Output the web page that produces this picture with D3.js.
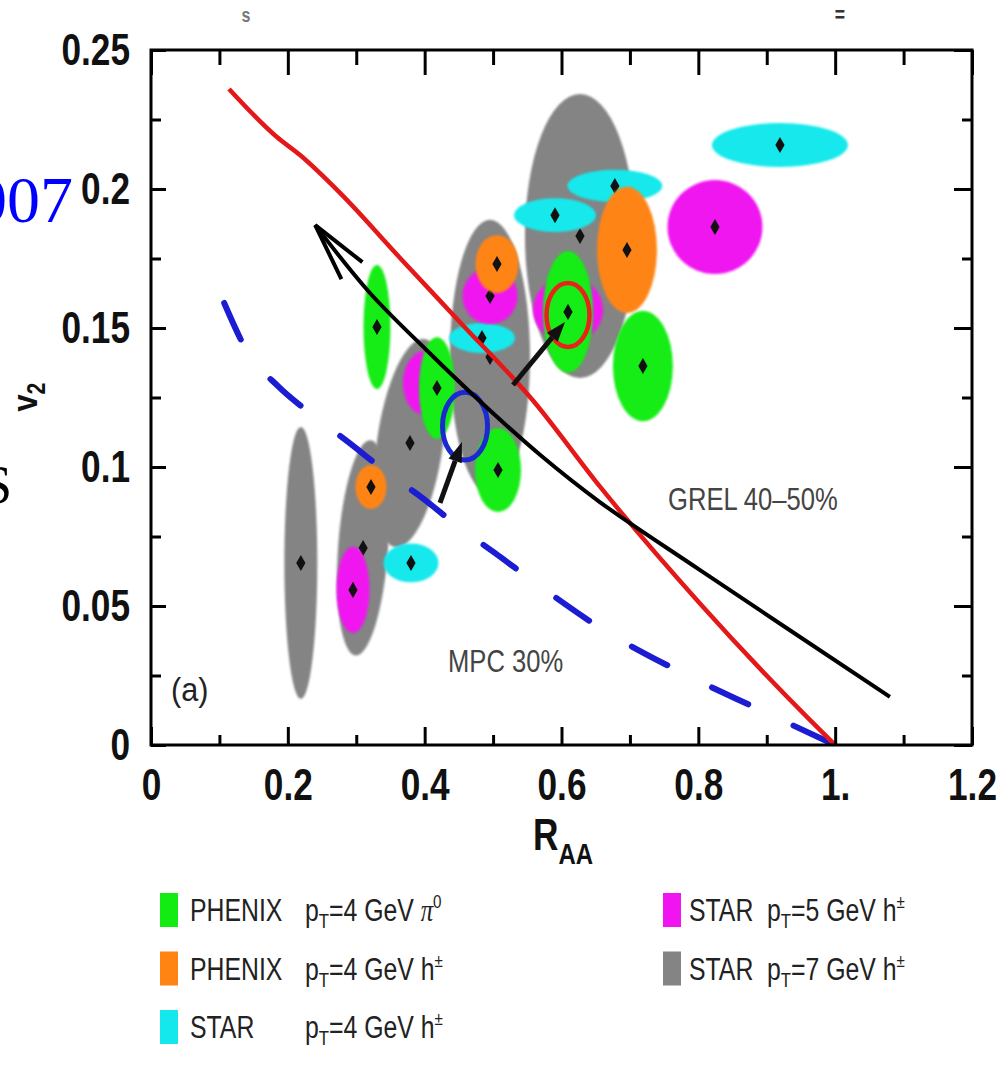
<!DOCTYPE html>
<html>
<head>
<meta charset="utf-8">
<script src="https://cdn.jsdelivr.net/npm/d3@7"></script>
<style>
body { margin: 0; background: #fff; }
svg { display: block; }
</style>
</head>
<body>
<div id="chart"></div>
<script>
var width = 1008, height = 1069;
var frame = {left: 151, right: 972, top: 50, bottom: 745};
var sans = "'Liberation Sans',Arial,sans-serif";
var serif = "'Liberation Serif','Times New Roman',serif";
var squeeze = 0.8; // the figure uses a narrow Helvetica

// axis ticks
var xMajor = [0, 0.2, 0.4, 0.6, 0.8, 1.0, 1.2];
var xLabels = ["0", "0.2", "0.4", "0.6", "0.8", "1.", "1.2"];
var xMinor = [0.1, 0.3, 0.5, 0.7, 0.9, 1.1];
var yMajor = [0, 0.05, 0.1, 0.15, 0.2, 0.25];
var yLabels = ["0", "0.05", "0.1", "0.15", "0.2", "0.25"];
var yMinor = [0.025, 0.075, 0.125, 0.175, 0.225];

// measurements: [R_AA, v2, half-width R_AA, half-width v2, tilt deg]
var star7 = [
  [0.219, 0.0655, 0.0241, 0.0489, 0],
  [0.310, 0.0709, 0.0365, 0.0388, 4],
  [0.3785, 0.1086, 0.0482, 0.0378, 8],
  [0.4955, 0.1396, 0.0585, 0.0493, 0],
  [0.627, 0.1831, 0.0804, 0.0511, 0]
];
var star4 = [
  [0.380, 0.0655, 0.0402, 0.0070, 0],
  [0.4838, 0.1464, 0.0482, 0.0054, 0],
  [0.5905, 0.1906, 0.0599, 0.0061, 0],
  [0.678, 0.2011, 0.0694, 0.0058, 0],
  [0.9193, 0.2158, 0.0994, 0.0079, 0]
];
var star5 = [
  [0.2952, 0.0558, 0.0241, 0.0155, 0],
  [0.4005, 0.1302, 0.0322, 0.0115, 0],
  [0.4955, 0.1615, 0.0402, 0.0101, 0],
  [0.6095, 0.1565, 0.0512, 0.0119, 0],
  [0.8243, 0.1863, 0.0694, 0.0169, 0]
];
var phenixH = [
  [0.3215, 0.0928, 0.0227, 0.0079, 0],
  [0.5057, 0.1730, 0.0314, 0.0104, 0],
  [0.6957, 0.1781, 0.0438, 0.0227, 0]
];
var phenixPi0 = [
  [0.3303, 0.1504, 0.0197, 0.0223, 0],
  [0.418, 0.1284, 0.0263, 0.0183, 0],
  [0.5072, 0.0989, 0.0336, 0.0151, 0],
  [0.6095, 0.1558, 0.0365, 0.0219, 0],
  [0.719, 0.1363, 0.0438, 0.0198, 0]
];

// model curves
var grelCurve = [[0.114, 0.236], [0.184, 0.2187], [0.2178, 0.2122], [0.2762, 0.1986], [0.364, 0.1752],
  [0.452, 0.152], [0.558, 0.124], [0.656, 0.093], [0.802, 0.051], [0.959, 0.010], [1.0, 0.0]];
var mpcCurve = [[0.107, 0.159], [0.142, 0.141], [0.186, 0.129], [0.240, 0.118], [0.288, 0.109],
  [0.345, 0.098], [0.396, 0.089], [0.452, 0.078], [0.503, 0.069], [0.558, 0.059], [0.664, 0.041],
  [0.776, 0.026], [0.887, 0.013], [1.0, 0.0]];
// hand-drawn trend arrow (tip first)
var trendCurve = [[0.240, 0.187], [0.320, 0.1626], [0.403, 0.142], [0.471, 0.1259], [0.569, 0.1043],
  [0.656, 0.0874], [0.802, 0.063], [1.080, 0.0173]];
var shiftArrows = [
  {from: [0.4224, 0.0871], to: [0.4545, 0.1090]},
  {from: [0.5291, 0.1295], to: [0.6051, 0.1522]}
];
// highlighted points [R_AA, v2, dR, dv2]
var redRing = [0.6095, 0.1547, 0.0314, 0.0115];
var blueRing = [0.459, 0.1147, 0.0329, 0.0122];

var legendItems = [
  {key: "phenixPi0", name: "PHENIX", pt: "4", part: "pi"},
  {key: "phenixH", name: "PHENIX", pt: "4", part: "h"},
  {key: "star4", name: "STAR", pt: "4", part: "h"},
  {key: "star5", name: "STAR", pt: "5", part: "h"},
  {key: "star7", name: "STAR", pt: "7", part: "h"}
];

var color = d3.scaleOrdinal()
  .domain(["phenixPi0", "phenixH", "star4", "star5", "star7"])
  .range(["#12ec12", "#ff8412", "#14e8ec", "#f014f0", "#848484"]);

var x = d3.scaleLinear().domain([0, 1.2]).range([frame.left, frame.right]);
var y = d3.scaleLinear().domain([0, 0.25]).range([frame.bottom, frame.top]);

var svg = d3.select("#chart").append("svg")
  .attr("width", width)
  .attr("height", height);

var defs = svg.append("defs");
defs.append("filter").attr("id", "soft")
  .append("feGaussianBlur").attr("stdDeviation", 0.9);

// narrow text: a group squeezed horizontally around its anchor
function narrowText(px, py, size, opts) {
  opts = opts || {};
  return svg.append("g")
    .attr("transform", "translate(" + px + "," + py + ") scale(" + (opts.sx || squeeze) + ",1)")
    .append("text")
    .attr("text-anchor", opts.anchor || "start")
    .style("font-family", sans).style("font-size", size + "px")
    .style("font-weight", opts.bold ? "bold" : "normal")
    .attr("fill", opts.fill || "#222");
}

// slide leftovers around the figure
svg.append("text").attr("x", 73).attr("y", 222).attr("text-anchor", "end")
  .style("font-family", serif).style("font-size", "66px").attr("fill", "#0000ff").text("2007");
svg.append("text").attr("x", 12).attr("y", 503).attr("text-anchor", "end")
  .style("font-family", serif).style("font-size", "54px").attr("fill", "#000").text("S");
narrowText(246, 22, 20, {anchor: "middle", fill: "#777", bold: true}).text("s");
narrowText(840, 22, 22, {anchor: "middle", fill: "#333", bold: true}).text("=");

// error ellipses
function drawSeries(data, key) {
  var g = svg.append("g").attr("class", "series-" + key);
  g.selectAll("ellipse")
    .data(data)
    .join("ellipse")
    .attr("cx", (d) => x(d[0]))
    .attr("cy", (d) => y(d[1]))
    .attr("rx", (d) => x(d[2]) - x(0))
    .attr("ry", (d) => y(0) - y(d[3]))
    .attr("transform", (d) => "rotate(" + d[4] + "," + x(d[0]) + "," + y(d[1]) + ")")
    .attr("fill", color(key))
    .attr("filter", "url(#soft)");
  g.selectAll("path")
    .data(data)
    .join("path")
    .attr("d", d3.symbol(d3.symbolDiamond, 74))
    .attr("transform", (d) => "translate(" + x(d[0]) + "," + y(d[1]) + ")")
    .attr("fill", "#111");
}
drawSeries(star7, "star7");
drawSeries(star4, "star4");
drawSeries(star5, "star5");
drawSeries(phenixH, "phenixH");
drawSeries(phenixPi0, "phenixPi0");

// rings
[[redRing, "#e8241a", 4.5], [blueRing, "#1a2ad0", 5]].forEach(function(r) {
  var d = r[0];
  svg.append("ellipse")
    .attr("cx", x(d[0])).attr("cy", y(d[1]))
    .attr("rx", x(d[2]) - x(0)).attr("ry", y(0) - y(d[3]))
    .attr("fill", "none").attr("stroke", r[1]).attr("stroke-width", r[2]);
});

var line = d3.line().x((d) => x(d[0])).y((d) => y(d[1])).curve(d3.curveMonotoneX);
var freeLine = d3.line().x((d) => x(d[0])).y((d) => y(d[1])).curve(d3.curveCatmullRom);

svg.append("path").datum(mpcCurve)
  .attr("d", line)
  .attr("fill", "none").attr("stroke", "#1c1cd2").attr("stroke-width", 6)
  .attr("stroke-linecap", "round").attr("stroke-dasharray", "40,50");

svg.append("path").datum(grelCurve)
  .attr("d", line)
  .attr("fill", "none").attr("stroke", "#e41818").attr("stroke-width", 4.5);

// trend arrow with open head
svg.append("path").datum(trendCurve)
  .attr("d", freeLine)
  .attr("fill", "none").attr("stroke", "#000").attr("stroke-width", 4);
(function() {
  var tx = x(trendCurve[0][0]), ty = y(trendCurve[0][1]);
  var bx = x(trendCurve[1][0]), by = y(trendCurve[1][1]);
  var a = Math.atan2(by - ty, bx - tx), len = 60, half = 13 * Math.PI / 180;
  var p1 = [tx + len * Math.cos(a - half), ty + len * Math.sin(a - half)];
  var p2 = [tx + len * Math.cos(a + half), ty + len * Math.sin(a + half)];
  svg.append("path")
    .attr("d", "M" + p1 + "L" + tx + "," + ty + "L" + p2)
    .attr("fill", "none").attr("stroke", "#000").attr("stroke-width", 4);
})();

// shift arrows
shiftArrows.forEach(function(s) {
  var x0 = x(s.from[0]), y0 = y(s.from[1]), x1 = x(s.to[0]), y1 = y(s.to[1]);
  var a = Math.atan2(y1 - y0, x1 - x0), hl = 20, hw = 7;
  var bx = x1 - hl * Math.cos(a), by = y1 - hl * Math.sin(a);
  svg.append("line")
    .attr("x1", x0).attr("y1", y0).attr("x2", bx).attr("y2", by)
    .attr("stroke", "#111").attr("stroke-width", 5);
  svg.append("path")
    .attr("d", "M" + x1 + "," + y1 +
      "L" + (bx + hw * Math.sin(a)) + "," + (by - hw * Math.cos(a)) +
      "L" + (bx - hw * Math.sin(a)) + "," + (by + hw * Math.cos(a)) + "Z")
    .attr("fill", "#111");
});

// frame
svg.append("rect")
  .attr("x", frame.left).attr("y", frame.top)
  .attr("width", frame.right - frame.left).attr("height", frame.bottom - frame.top)
  .attr("fill", "none").attr("stroke", "#000").attr("stroke-width", 3);

function styleAxis(g) {
  g.select(".domain").remove();
  g.selectAll("line").attr("stroke", "#000").attr("stroke-width", 3);
  g.selectAll("text")
    .style("font-family", sans).style("font-size", "44px").style("font-weight", "bold")
    .attr("fill", "#111")
    .attr("transform", function() {
      var tx = +d3.select(this).attr("x") || 0;
      return "translate(" + tx + ",0) scale(" + squeeze + ",1) translate(" + (-tx) + ",0)";
    });
}

svg.append("g").attr("transform", "translate(0," + frame.bottom + ")")
  .call(d3.axisBottom(x).tickValues(xMajor).tickSize(-18).tickPadding(24)
    .tickFormat((d) => xLabels[xMajor.indexOf(d)]))
  .call(styleAxis);
svg.append("g").attr("transform", "translate(0," + frame.bottom + ")")
  .call(d3.axisBottom(x).tickValues(xMinor).tickSize(-10).tickFormat(""))
  .call(styleAxis);
svg.append("g").attr("transform", "translate(0," + frame.top + ")")
  .call(d3.axisTop(x).tickValues(xMajor).tickSize(-25).tickFormat(""))
  .call(styleAxis);
svg.append("g").attr("transform", "translate(0," + frame.top + ")")
  .call(d3.axisTop(x).tickValues(xMinor).tickSize(-15).tickFormat(""))
  .call(styleAxis);
svg.append("g").attr("transform", "translate(" + frame.left + ",0)")
  .call(d3.axisLeft(y).tickValues(yMajor).tickSize(-15).tickPadding(21)
    .tickFormat((d) => yLabels[yMajor.indexOf(d)]))
  .call(styleAxis);
svg.append("g").attr("transform", "translate(" + frame.left + ",0)")
  .call(d3.axisLeft(y).tickValues(yMinor).tickSize(-10).tickFormat(""))
  .call(styleAxis);
svg.append("g").attr("transform", "translate(" + frame.right + ",0)")
  .call(d3.axisRight(y).tickValues(yMajor).tickSize(-18).tickFormat(""))
  .call(styleAxis);
svg.append("g").attr("transform", "translate(" + frame.right + ",0)")
  .call(d3.axisRight(y).tickValues(yMinor).tickSize(-10).tickFormat(""))
  .call(styleAxis);

// axis titles
var xt = narrowText(563, 850, 44, {anchor: "middle", bold: true, fill: "#111"});
xt.append("tspan").text("R");
xt.append("tspan").style("font-size", "30px").attr("dy", 14).text("AA");

var yt = svg.append("g").attr("transform", "translate(37,397) rotate(-90) scale(0.85,1)")
  .append("text").attr("text-anchor", "middle")
  .style("font-family", sans).style("font-weight", "bold").attr("fill", "#111");
yt.append("tspan").style("font-size", "36px").text("v");
yt.append("tspan").style("font-size", "25px").attr("dy", 8).text("2");

// in-plot labels
narrowText(668, 510, 32, {fill: "#444"}).text("GREL  40\u201350%");
narrowText(448, 672, 32, {fill: "#444"}).text("MPC  30%");
narrowText(171, 701, 34, {fill: "#222", sx: 0.9}).text("(a)");

// legend
legendItems.forEach(function(d, i) {
  var col = i < 3 ? 0 : 1, row = i < 3 ? i : i - 3;
  var lx = col ? 663 : 160, ly = 893 + row * 58.5;
  svg.append("rect")
    .attr("x", lx).attr("y", ly)
    .attr("width", 18).attr("height", 34)
    .attr("fill", color(d.key));
  var nameX = lx + (col ? 26 : 30);
  var pX = lx + (col ? 104 : 145);
  var t = narrowText(nameX, ly + 28, 31, {fill: "#222", sx: 0.8});
  t.append("tspan").attr("x", 0).text(d.name);
  t.append("tspan").attr("x", (pX - nameX) / 0.8).text("p");
  t.append("tspan").attr("dy", 7).style("font-size", "21px").text("T");
  t.append("tspan").attr("dy", -7).text("=" + d.pt + " GeV ");
  if (d.part === "pi") {
    t.append("tspan").style("font-family", serif).style("font-style", "italic").text("\u03c0");
    t.append("tspan").attr("dy", -13).style("font-size", "19px").text("0");
  } else {
    t.append("tspan").text("h");
    t.append("tspan").attr("dy", -13).style("font-size", "19px").text("\u00b1");
  }
});
</script>
</body>
</html>
